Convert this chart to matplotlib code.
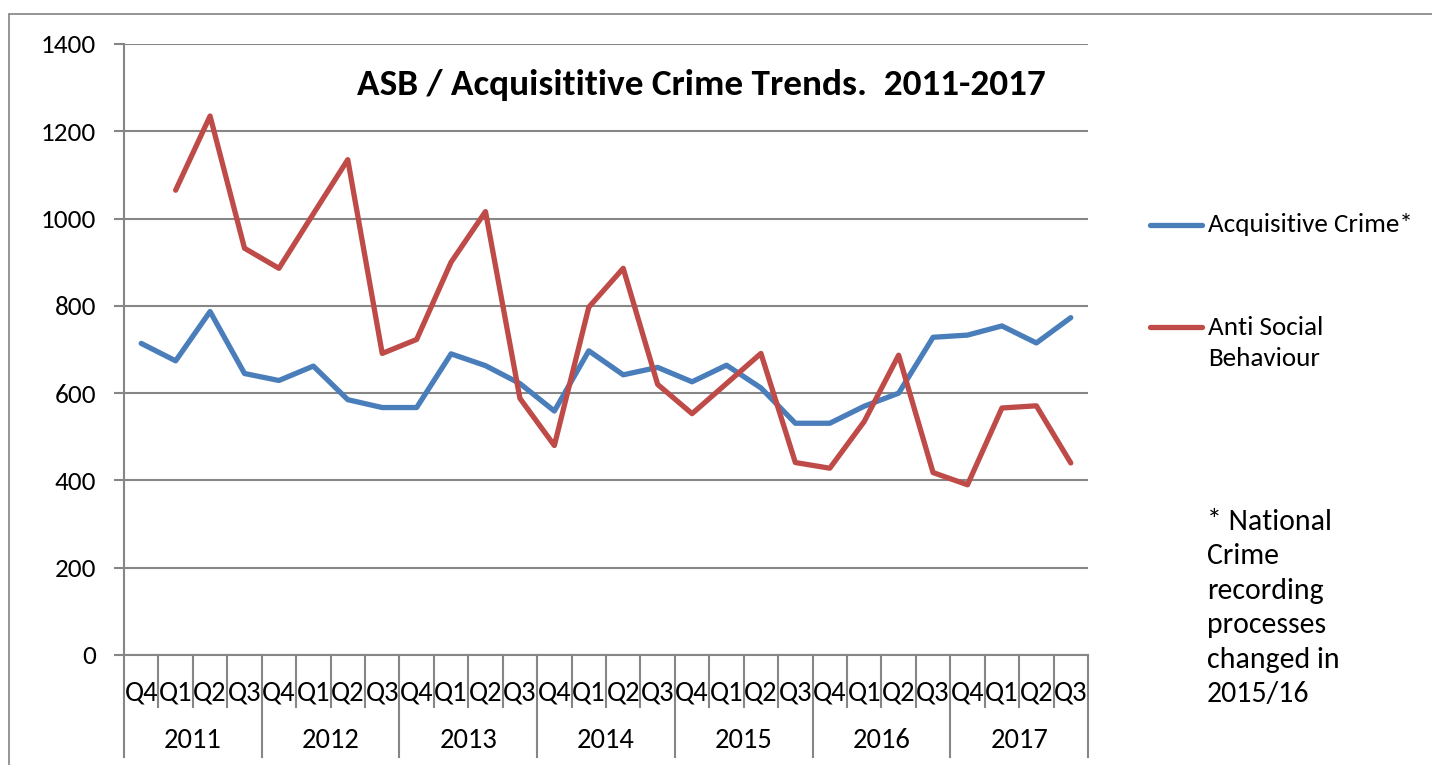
import numpy as np
import matplotlib
matplotlib.use("Agg")
import matplotlib.pyplot as plt
from matplotlib.patches import Rectangle

quarters = ["Q4", "Q1", "Q2", "Q3"] * 7
years = ["2011", "2012", "2013", "2014", "2015", "2016", "2017"]
acquisitive = [714, 674, 787, 645, 629, 662, 585, 567, 567, 690, 663, 622, 559, 697,
               642, 659, 626, 664, 612, 531, 531, 570, 600, 728, 733, 754, 715, 773]
asb = [np.nan, 1065, 1235, 932, 886, 1011, 1135, 691, 723, 900, 1016, 588, 480, 797,
       886, 620, 553, 622, 691, 441, 428, 535, 687, 418, 390, 566, 571, 440]
series_names = ["Acquisitive Crime*", "Anti Social\nBehaviour"]
title = "ASB / Acquisititive Crime Trends.  2011-2017"
note = "* National\nCrime\nrecording\nprocesses\nchanged in\n2015/16"

FONT = ["Carlito", "Lato", "DejaVu Sans"]
plt.rcParams["font.family"] = FONT

W, H = 1432, 765
fig = plt.figure(figsize=(W / 100, H / 100), dpi=100)
fig.patch.set_facecolor("white")

# outer chart border
fig.patches.append(Rectangle((9 / W, -0.1), 1.2, 1 - 14 / H + 0.1, transform=fig.transFigure,
                             fill=False, edgecolor="#8c8c8c", linewidth=1.3))

L, R, T, B = 124, 1088, 44, 655
ax = fig.add_axes([L / W, 1 - B / H, (R - L) / W, (B - T) / H])

blue = "#4A7EBB"
red = "#BE4B48"
x = np.arange(len(quarters))
ax.plot(x, acquisitive, color=blue, lw=3.8, solid_capstyle="round", solid_joinstyle="round")
ax.plot(x, asb, color=red, lw=3.8, solid_capstyle="round", solid_joinstyle="round")

ax.set_xlim(-0.5, len(quarters) - 0.5)
ax.set_ylim(0, 1400)
ax.set_yticks(np.arange(0, 1401, 200))
ax.yaxis.grid(True, color="#868686", lw=1.5)
ax.set_axisbelow(True)
for s in ["top", "right"]:
    ax.spines[s].set_visible(False)
ax.spines["left"].set_color("#868686")
ax.spines["left"].set_linewidth(1.5)
ax.spines["bottom"].set_color("#868686")
ax.spines["bottom"].set_linewidth(1.5)
ax.tick_params(axis="y", length=7, width=1.5, color="#868686", labelsize=19.5, pad=13)

ax.set_xticks(x)
ax.set_xticklabels(quarters, fontsize=20.5)
ax.tick_params(axis="x", length=0, pad=18)

ph = B - T
xt = ax.get_xaxis_transform()
for i in range(len(quarters) + 1):
    bnd = i - 0.5
    if i % 4 == 0:
        y1 = -(757 - B) / ph
    else:
        y1 = -(707 - B) / ph
    ax.plot([bnd, bnd], [0, y1], transform=xt, color="#868686", lw=1.5, clip_on=False)
for k, yr in enumerate(years):
    ax.text(4 * k + 1.5, -(741 - B) / ph, yr, transform=xt, ha="center", va="center", fontsize=20.5)

fig.text(357 / W, 1 - 85 / H, title, fontsize=26.8, fontweight="bold", ha="left", va="center")

# legend
for yy, ly, name, c in [(225, 225, series_names[0], blue), (327, 343, series_names[1], red)]:
    fig.add_artist(plt.Line2D([1150 / W, 1202 / W], [1 - yy / H, 1 - yy / H], color=c, lw=3.8,
                              solid_capstyle="round", transform=fig.transFigure))
    fig.text(1208 / W, 1 - ly / H, name, fontsize=19.5, ha="left", va="center", linespacing=1.45)

fig.text(1207 / W, 1 - 608 / H, note, fontsize=21.5, ha="left", va="center", linespacing=1.4)

fig.savefig("out.png", dpi=100, facecolor="white")
